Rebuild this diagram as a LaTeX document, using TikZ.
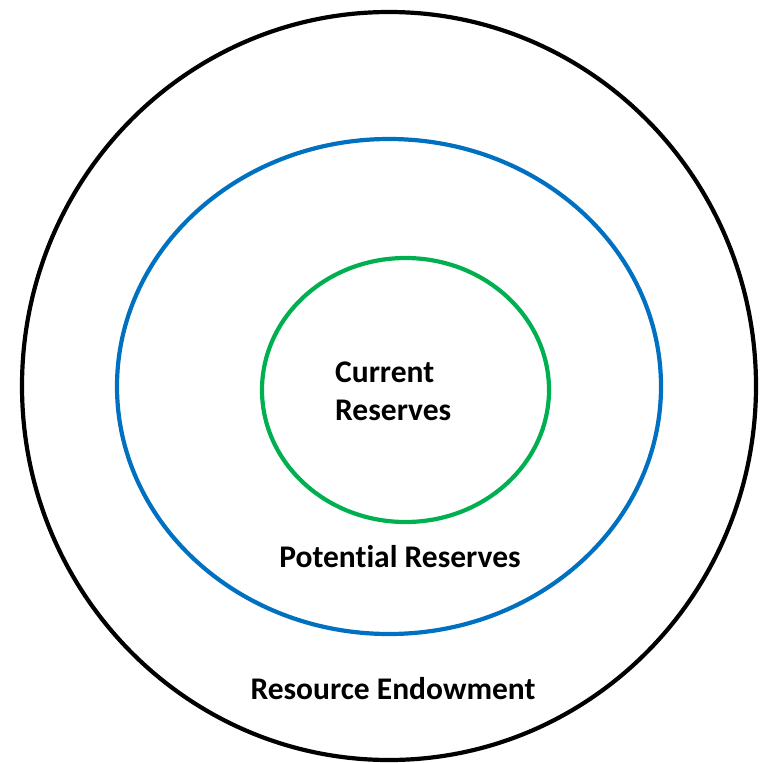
\documentclass[tikz,border=0pt]{standalone}
\usepackage{fontspec}
\setmainfont{Carlito}[Ligatures={NoCommon}]
\definecolor{ringblue}{HTML}{0070C0}
\definecolor{ringgreen}{HTML}{00B050}
\begin{document}
\begin{tikzpicture}[x=1pt,y=-1pt,
    ring/.style={line width=4.2pt},
    label/.style={font=\fontsize{31.5}{38}\selectfont\bfseries, inner sep=0pt}]
  \useasboundingbox (0,0) rectangle (763,763);
  % nested resource rings
  \draw[ring, black] (389,386) ellipse [x radius=367pt, y radius=374pt];
  \draw[ring, ringblue] (389,386.5) ellipse [x radius=272pt, y radius=247.5pt];
  \draw[ring, ringgreen] (405.5,390) ellipse [x radius=143.5pt, y radius=132pt];
  % ring labels
  \node[label, align=left, anchor=west] (current) at (335,391) {Current\\Reserves};
  \node[label] (potential) at (400,557) {Potential Reserves};
  \node[label] (endowment) at (393,689) {Resource Endowment};
\end{tikzpicture}
\end{document}
